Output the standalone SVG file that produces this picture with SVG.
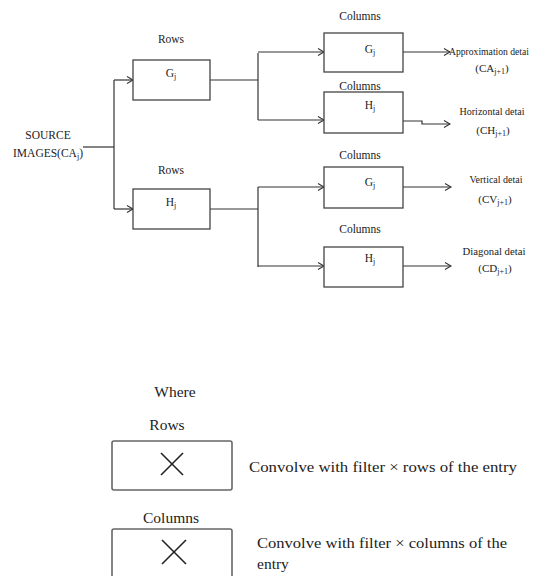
<svg xmlns="http://www.w3.org/2000/svg" width="543" height="576" viewBox="0 0 543 576">
<defs>
<style>
text{font-family:"Liberation Serif","Times New Roman",serif;fill:#222;}
.lbl{font-size:11.5px;text-anchor:middle;}
.out{font-size:11px;text-anchor:middle;}
.leg{font-size:15.5px;}
.sub{font-size:8px;}
.box{fill:#fff;stroke:#444;stroke-width:1.3;}
.lbox{fill:#fff;stroke:#666;stroke-width:1.6;}
.ln{fill:none;stroke:#333;stroke-width:1.2;}
.x{stroke:#222;stroke-width:1.6;}
</style>
<marker id="ah" markerWidth="8" markerHeight="8" refX="7" refY="4" orient="auto" markerUnits="userSpaceOnUse">
<polyline points="1,0.5 7,4 1,7.5" fill="none" stroke="#333" stroke-width="1.1"/>
</marker>
</defs>
<rect width="543" height="576" fill="#fff"/>

<g id="source">
<text class="lbl" x="48" y="139">SOURCE</text>
<text class="lbl" x="48" y="157">IMAGES(CA<tspan class="sub" dy="2">j</tspan><tspan dy="-2">)</tspan></text>
</g>

<g id="connectors">
<path class="ln" d="M83 147 H114"/>
<path class="ln" d="M114 80 V209"/>
<path class="ln" d="M114 80 H133" marker-end="url(#ah)"/>
<path class="ln" d="M114 209 H133" marker-end="url(#ah)"/>
<path class="ln" d="M210 80 H258"/>
<path class="ln" d="M258 53 V120"/>
<path class="ln" d="M258 52 H324" marker-end="url(#ah)"/>
<path class="ln" d="M258 120 H324" marker-end="url(#ah)"/>
<path class="ln" d="M210 209 H258"/>
<path class="ln" d="M258 187 V267"/>
<path class="ln" d="M258 187 H324" marker-end="url(#ah)"/>
<path class="ln" d="M258 266 H324" marker-end="url(#ah)"/>
<path class="ln" d="M403 52 H450" marker-end="url(#ah)"/>
<path class="ln" d="M403 121 H422 V124 H450" marker-end="url(#ah)"/>
<path class="ln" d="M403 187 H451" marker-end="url(#ah)"/>
<path class="ln" d="M403 266 H451" marker-end="url(#ah)"/>
</g>

<g id="rowsG">
<text class="lbl" x="171" y="43">Rows</text>
<rect class="box" x="133" y="60" width="77" height="40"/>
<text class="lbl" x="171" y="77">G<tspan class="sub" dy="2">j</tspan></text>
</g>
<g id="rowsH">
<text class="lbl" x="171" y="174">Rows</text>
<rect class="box" x="133" y="189" width="77" height="40"/>
<text class="lbl" x="171" y="206">H<tspan class="sub" dy="2">j</tspan></text>
</g>

<g id="colG1">
<text class="lbl" x="360" y="20">Columns</text>
<rect class="box" x="324" y="33" width="79" height="39"/>
<text class="lbl" x="370" y="53">G<tspan class="sub" dy="2">j</tspan></text>
</g>
<g id="colH1">
<text class="lbl" x="360" y="90">Columns</text>
<rect class="box" x="324" y="92" width="79" height="41"/>
<text class="lbl" x="370" y="109">H<tspan class="sub" dy="2">j</tspan></text>
</g>
<g id="colG2">
<text class="lbl" x="360" y="159">Columns</text>
<rect class="box" x="324" y="167" width="79" height="41"/>
<text class="lbl" x="370" y="186">G<tspan class="sub" dy="2">j</tspan></text>
</g>
<g id="colH2">
<text class="lbl" x="360" y="233">Columns</text>
<rect class="box" x="324" y="247" width="79" height="40"/>
<text class="lbl" x="370" y="262">H<tspan class="sub" dy="2">j</tspan></text>
</g>

<g id="outCA">
<text class="out" x="489" y="55" textLength="80" lengthAdjust="spacingAndGlyphs">Approximation detai</text>
<text class="out" x="492" y="72">(CA<tspan class="sub" dy="2">j+1</tspan><tspan dy="-2">)</tspan></text>
</g>
<g id="outCH">
<text class="out" x="492" y="115" textLength="65" lengthAdjust="spacingAndGlyphs">Horizontal detai</text>
<text class="out" x="493" y="134">(CH<tspan class="sub" dy="2">j+1</tspan><tspan dy="-2">)</tspan></text>
</g>
<g id="outCV">
<text class="out" x="496" y="183" textLength="53" lengthAdjust="spacingAndGlyphs">Vertical detai</text>
<text class="out" x="495" y="203">(CV<tspan class="sub" dy="2">j+1</tspan><tspan dy="-2">)</tspan></text>
</g>
<g id="outCD">
<text class="out" x="494" y="255" textLength="63" lengthAdjust="spacingAndGlyphs">Diagonal detai</text>
<text class="out" x="495" y="272">(CD<tspan class="sub" dy="2">j+1</tspan><tspan dy="-2">)</tspan></text>
</g>

<g id="legend">
<text class="leg" x="175" y="397" text-anchor="middle">Where</text>
<text class="leg" x="167" y="430" text-anchor="middle">Rows</text>
<rect class="lbox" x="112" y="441" width="120" height="49" rx="2"/>
<line class="x" x1="161" y1="453" x2="183" y2="475"/>
<line class="x" x1="183" y1="453" x2="161" y2="475"/>
<text class="leg" x="249" y="472" textLength="268" lengthAdjust="spacingAndGlyphs">Convolve with filter ×  rows of the entry</text>
<text class="leg" x="171" y="523" text-anchor="middle">Columns</text>
<rect class="lbox" x="112" y="529" width="120" height="60" rx="2"/>
<line class="x" x1="162" y1="540" x2="186" y2="564"/>
<line class="x" x1="186" y1="540" x2="162" y2="564"/>
<text class="leg" x="257" y="548" textLength="250" lengthAdjust="spacingAndGlyphs">Convolve with filter × columns of the</text>
<text class="leg" x="257" y="569">entry</text>
</g>
</svg>
